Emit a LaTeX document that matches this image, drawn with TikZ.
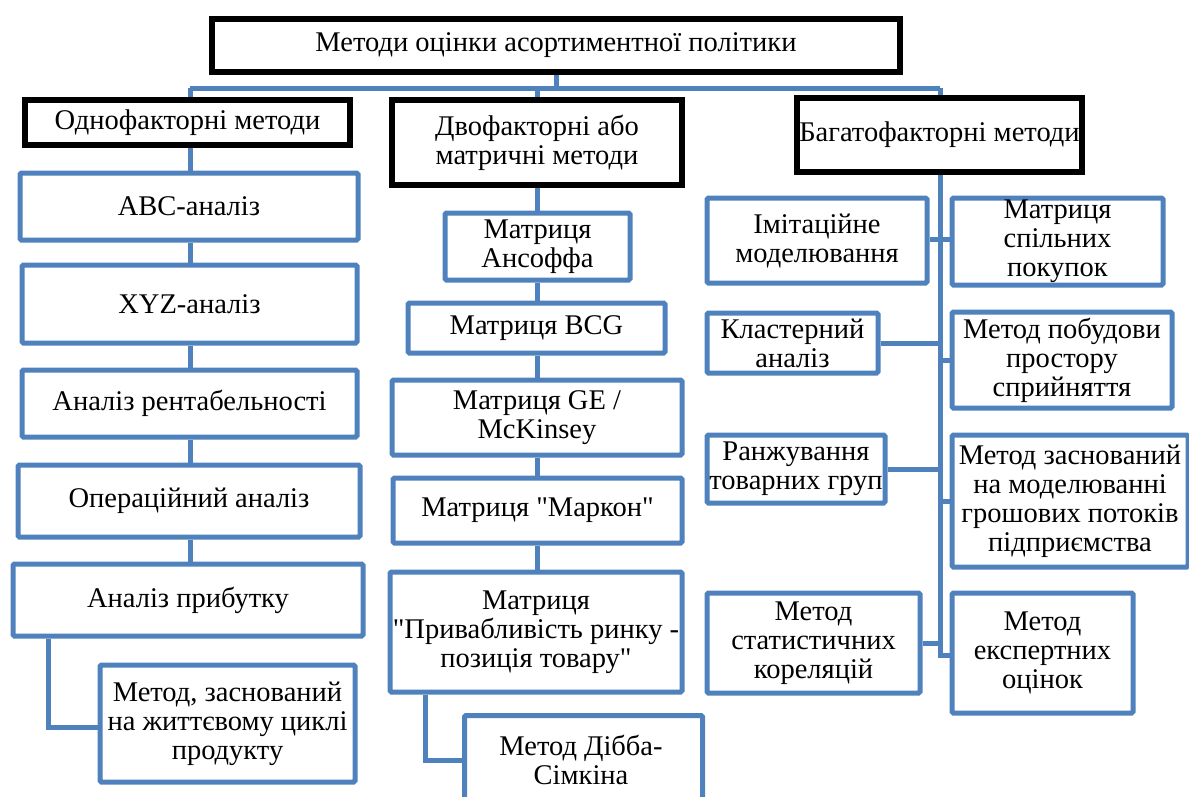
\documentclass[tikz,border=0pt]{standalone}
\usepackage{fontspec}
\setmainfont{Liberation Serif}[Ligatures=TeXOff]
\definecolor{bl}{HTML}{4F81BD}
\tikzset{
  txt/.style={align=center, inner sep=0pt, font=\fontsize{28.5}{29}\selectfont},
  bbox/.style={txt, draw=black, line width=5.5pt, fill=white},
  ubox/.style={txt, draw=bl, line width=5pt, fill=white, rounded corners=1.5pt},
  link/.style={draw=bl, line width=5pt}
}
\begin{document}
\begin{tikzpicture}[x=1pt,y=-1pt]
\useasboundingbox (0,0) rectangle (1189,796);
\clip (0,0) rectangle (1189,796);
% coordinates
\coordinate (busL) at (190,88);
\coordinate (busM) at (537,88);
\coordinate (busR) at (940,88);
\coordinate (hookL) at (48,727);
\coordinate (hookM) at (425,760);
\coordinate (busEnd) at (940,655);
% header boxes
\node[bbox, minimum width=688, minimum height=53] (top) at (556,45.5) {Методи оцінки асортиментної політики};
\node[bbox, minimum width=325, minimum height=45] (L1) at (187.5,122.5) {Однофакторні методи};
\node[bbox, minimum width=290, minimum height=85] (M1) at (537,142.5) {Двофакторні або\\матричні методи};
\node[bbox, minimum width=285, minimum height=74] (R1) at (939.5,135) {Багатофакторні методи};
% left column
\node[ubox, minimum width=338, minimum height=67] (abc) at (189,206.5) {ABC-аналіз};
\node[ubox, minimum width=335, minimum height=78] (xyz) at (189.5,304) {XYZ-аналіз};
\node[ubox, minimum width=335, minimum height=67] (rent) at (189.5,403.5) {Аналіз рентабельності};
\node[ubox, minimum width=342, minimum height=72] (oper) at (189,501) {Операційний аналіз};
\node[ubox, minimum width=350, minimum height=72] (prib) at (188,600) {Аналіз прибутку};
\node[ubox, minimum width=255, minimum height=117] (zhc) at (227.5,723.5) {Метод, заснований\\на життєвому циклі\\продукту};
% middle column
\node[ubox, minimum width=185, minimum height=67] (ans) at (537.5,246.5) {Матриця\\Ансоффа};
\node[ubox, minimum width=257, minimum height=50] (bcg) at (536.5,328) {Матриця BCG};
\node[ubox, minimum width=290, minimum height=75] (ge) at (537,417.5) {Матриця GE /\\McKinsey};
\node[ubox, minimum width=289, minimum height=65] (mark) at (537.5,510.5) {Матриця "Маркон"};
\node[ubox, minimum width=292, minimum height=120] (priv) at (536,632) {Матриця\\"Привабливість ринку -\\позиція товару"};
\node[ubox, minimum width=238, minimum height=98, anchor=north west] (dibb) at (462,713) {};
\node[txt] (dibbt) at (581,760) {Метод Дібба-\\Сімкіна};
% right column
\node[ubox, minimum width=220, minimum height=85] (imit) at (817,240.5) {Імітаційне\\моделювання};
\node[ubox, minimum width=211, minimum height=87] (spil) at (1057.5,241.5) {Матриця\\спільних\\покупок};
\node[ubox, minimum width=171, minimum height=60] (klas) at (792.5,343) {Кластерний\\аналіз};
\node[ubox, minimum width=220, minimum height=96] (pob) at (1062,360) {Метод побудови\\простору\\сприйняття};
\node[ubox, minimum width=178, minimum height=68] (ranz) at (796,469) {Ранжування\\товарних груп};
\node[ubox, minimum width=236, minimum height=132] (zasn) at (1070,501) {Метод заснований\\на моделюванні\\грошових потоків\\підприємства};
\node[ubox, minimum width=213, minimum height=100] (stat) at (813.5,643) {Метод\\статистичних\\кореляцій};
\node[ubox, minimum width=181, minimum height=120] (eksp) at (1042.5,653) {Метод\\експертних\\оцінок};
% connectors
\draw[link] (top.south) -- (top.south |- busL);
\draw[link] (busL) -- (busR);
\draw[link] (busL) -- (busL |- L1.north);
\draw[link] (busM) -- (busM |- M1.north);
\draw[link] (busR) -- (busR |- R1.north);
% left chain
\draw[link] (busL |- L1.south) -- (busL |- abc.north);
\draw[link] (busL |- abc.south) -- (busL |- xyz.north);
\draw[link] (busL |- xyz.south) -- (busL |- rent.north);
\draw[link] (busL |- rent.south) -- (busL |- oper.north);
\draw[link] (busL |- oper.south) -- (busL |- prib.north);
\draw[link] (hookL |- prib.south) -- (hookL) -- (hookL -| zhc.west);
% middle chain
\draw[link] (busM |- M1.south) -- (busM |- ans.north);
\draw[link] (busM |- ans.south) -- (busM |- bcg.north);
\draw[link] (busM |- bcg.south) -- (busM |- ge.north);
\draw[link] (busM |- ge.south) -- (busM |- mark.north);
\draw[link] (busM |- mark.south) -- (busM |- priv.north);
\draw[link] (hookM |- priv.south) -- (hookM) -- (hookM -| dibb.west);
% right
\draw[link] (busR |- R1.south) -- (busEnd) -- (busEnd -| eksp.west);
\draw[link] ([yshift=1.5]imit.east) -- ([yshift=1.5]imit.east -| spil.west);
\draw[link] (klas.east) -- (klas.east -| busR);
\draw[link] (busR |- pob.west) -- (pob.west);
\draw[link] (ranz.east) -- (ranz.east -| busR);
\draw[link] (busR |- zasn.west) -- (zasn.west);
\draw[link] (stat.east) -- (stat.east -| busR);
\end{tikzpicture}
\end{document}
